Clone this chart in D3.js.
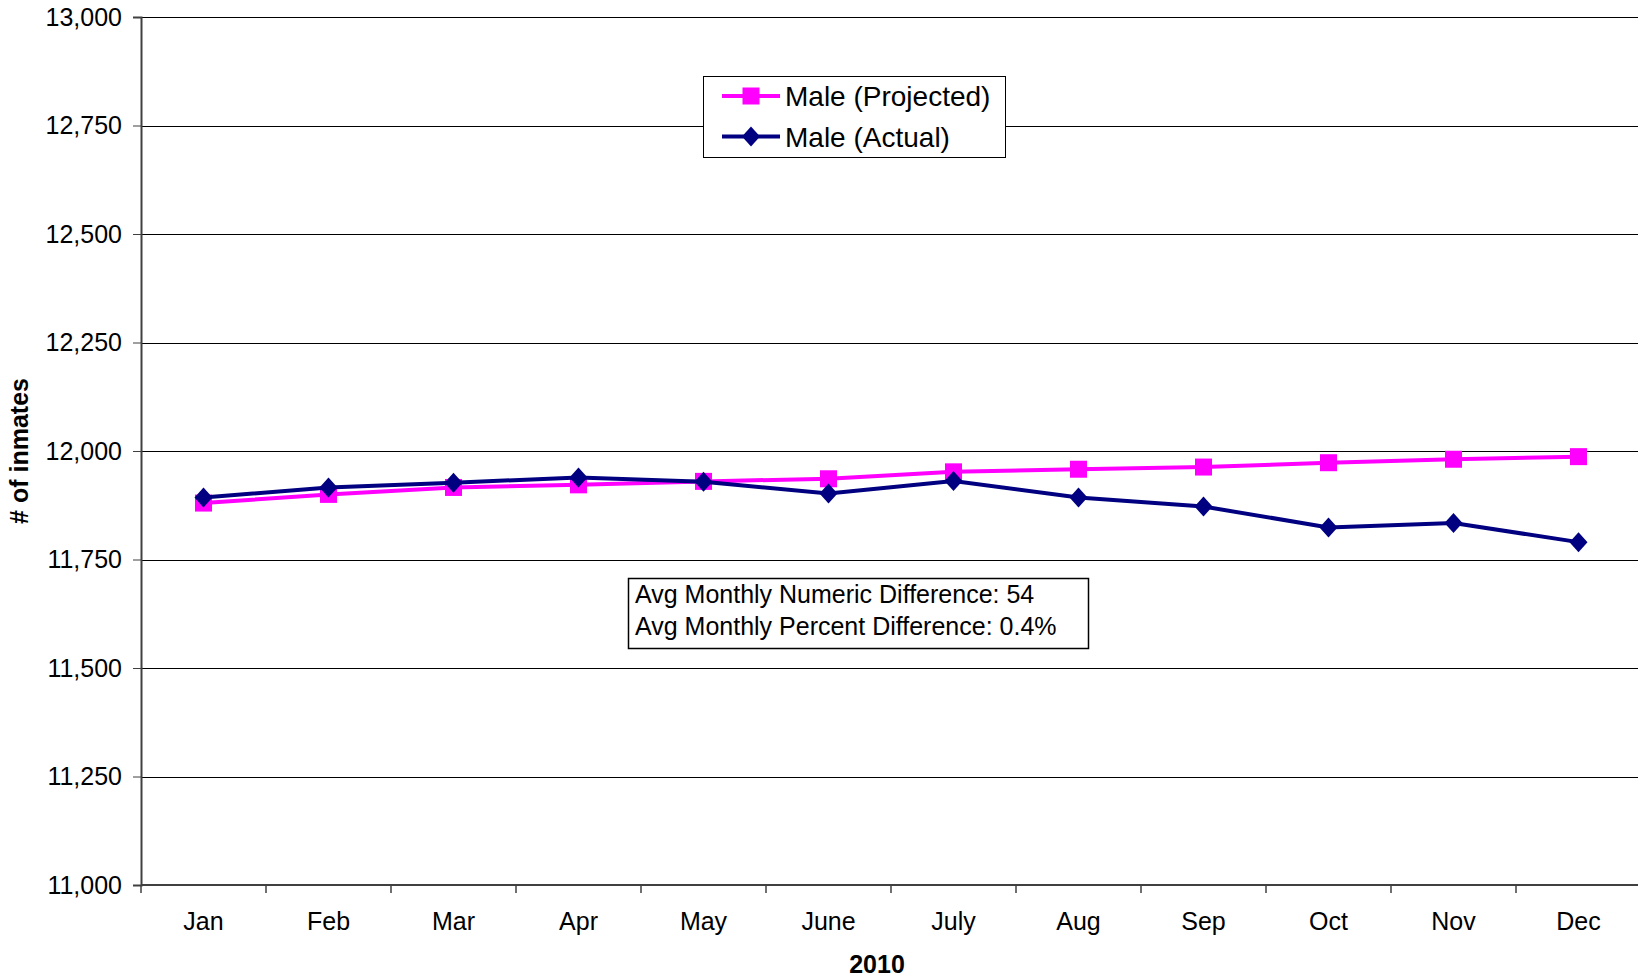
<!DOCTYPE html>
<html>
<head>
<meta charset="utf-8">
<script src="https://cdn.jsdelivr.net/npm/d3@7"></script>
<style>
  body { margin: 0; background: #fff; }
  svg { display: block; font-family: Arial, 'Liberation Sans', sans-serif; }
</style>
</head>
<body>
<div id="chart"></div>
<script>
const months = ['Jan', 'Feb', 'Mar', 'Apr', 'May', 'June', 'July', 'Aug', 'Sep', 'Oct', 'Nov', 'Dec'];
const projected = [11880, 11900, 11916, 11922, 11930, 11936, 11952, 11958, 11963, 11973, 11981, 11987];
const actual = [11893, 11916, 11927, 11939, 11929, 11902, 11931, 11893, 11872, 11824, 11834, 11790];
const yTicks = [11000, 11250, 11500, 11750, 12000, 12250, 12500, 12750, 13000];
const seriesNames = ['Male (Projected)', 'Male (Actual)'];
const statLines = ['Avg Monthly Numeric Difference: 54', 'Avg Monthly Percent Difference: 0.4%'];

const pink = '#ff00ff', navy = '#000080';

// Set the dimensions and margins of the graph
const margin = { top: 17, right: -3, bottom: 95, left: 141 },
  W = 1638, H = 980,
  width = W - margin.left - margin.right,
  height = H - margin.top - margin.bottom;

const svg = d3.select('#chart').append('svg')
  .attr('width', W)
  .attr('height', H);
const g = svg.append('g')
  .attr('transform', 'translate(' + margin.left + ',' + margin.top + ')');

const x = d3.scaleBand().domain(months).range([0, width]).padding(0);
const y = d3.scaleLinear().domain([11000, 13000]).range([height, 0]);

// Gridlines
g.selectAll('.grid')
  .data(yTicks.slice(1))
  .enter()
  .append('line')
  .attr('x1', 0).attr('x2', width)
  .attr('y1', d => Math.round(y(d)) + 0.5)
  .attr('y2', d => Math.round(y(d)) + 0.5)
  .attr('stroke', '#000')
  .attr('stroke-width', 1);

// Y axis
const yAxis = g.append('g')
  .call(d3.axisLeft(y).tickValues(yTicks).tickFormat(d3.format(',')).tickSize(8).tickPadding(11));
yAxis.select('.domain').attr('stroke', '#404040').attr('stroke-width', 2);
yAxis.selectAll('.tick line').attr('stroke', '#404040');
yAxis.selectAll('.tick text')
  .style('font-size', '25px')
  .style('font-family', "Arial, 'Liberation Sans', sans-serif")
  .attr('fill', '#000');

// X axis: labels at band centers, tick marks at band edges
const xAxis = g.append('g').attr('transform', 'translate(0,' + height + ')');
xAxis.append('line')
  .attr('x1', 0).attr('x2', width)
  .attr('stroke', '#404040').attr('stroke-width', 2);
xAxis.selectAll('.xtick')
  .data(months.concat(['end']))
  .enter()
  .append('line')
  .attr('x1', d => d === 'end' ? width : x(d))
  .attr('x2', d => d === 'end' ? width : x(d))
  .attr('y1', 0).attr('y2', 8)
  .attr('stroke', '#404040').attr('stroke-width', 1.5);
xAxis.selectAll('.xlabel')
  .data(months)
  .enter()
  .append('text')
  .attr('x', d => x(d) + x.bandwidth() / 2)
  .attr('y', 45)
  .attr('text-anchor', 'middle')
  .style('font-size', '25px')
  .text(d => d);

// Axis titles
svg.append('text')
  .attr('x', 877).attr('y', 973)
  .attr('text-anchor', 'middle')
  .style('font-size', '25px')
  .style('font-weight', 'bold')
  .text('2010');
svg.append('text')
  .attr('transform', 'translate(28,451) rotate(-90)')
  .attr('text-anchor', 'middle')
  .style('font-size', '25px')
  .style('font-weight', 'bold')
  .text('# of inmates');

// Lines and markers
const line = d3.line()
  .x((d, i) => x(months[i]) + x.bandwidth() / 2)
  .y(d => y(d));

const square = d3.symbol().type(d3.symbolSquare).size(17 * 17);
const diamond = 'M0,-10L9,0L0,10L-9,0Z';

g.append('path').datum(projected)
  .attr('d', line).attr('fill', 'none')
  .attr('stroke', pink).attr('stroke-width', 4);
g.selectAll('.psq')
  .data(projected)
  .enter()
  .append('path')
  .attr('d', square)
  .attr('transform', (d, i) => 'translate(' + (x(months[i]) + x.bandwidth() / 2) + ',' + y(d) + ')')
  .attr('fill', pink);

g.append('path').datum(actual)
  .attr('d', line).attr('fill', 'none')
  .attr('stroke', navy).attr('stroke-width', 4);
g.selectAll('.adm')
  .data(actual)
  .enter()
  .append('path')
  .attr('d', diamond)
  .attr('transform', (d, i) => 'translate(' + (x(months[i]) + x.bandwidth() / 2) + ',' + y(d) + ')')
  .attr('fill', navy);

// Legend
const legend = svg.append('g');
legend.append('rect')
  .attr('x', 703.5).attr('y', 76.5)
  .attr('width', 302).attr('height', 81)
  .attr('fill', '#fff').attr('stroke', '#000').attr('stroke-width', 1);
const legRows = legend.selectAll('.row')
  .data(seriesNames)
  .enter()
  .append('g')
  .attr('transform', (d, i) => 'translate(0,' + (96 + i * 40.5) + ')');
legRows.append('line')
  .attr('x1', 722).attr('x2', 780)
  .attr('stroke', (d, i) => i === 0 ? pink : navy)
  .attr('stroke-width', 4);
legRows.append('path')
  .attr('d', (d, i) => i === 0 ? square() : diamond)
  .attr('transform', 'translate(751,0)')
  .attr('fill', (d, i) => i === 0 ? pink : navy);
legRows.append('text')
  .attr('x', 785).attr('y', 10)
  .style('font-size', '28px')
  .text(d => d);

// Stats box
const stats = svg.append('g');
stats.append('rect')
  .attr('x', 628.5).attr('y', 578.5)
  .attr('width', 460).attr('height', 70)
  .attr('fill', '#fff').attr('stroke', '#000').attr('stroke-width', 1.5);
stats.selectAll('text')
  .data(statLines)
  .enter()
  .append('text')
  .attr('x', 635)
  .attr('y', (d, i) => 602.5 + i * 32)
  .style('font-size', '25px')
  .text(d => d);
</script>
</body>
</html>
